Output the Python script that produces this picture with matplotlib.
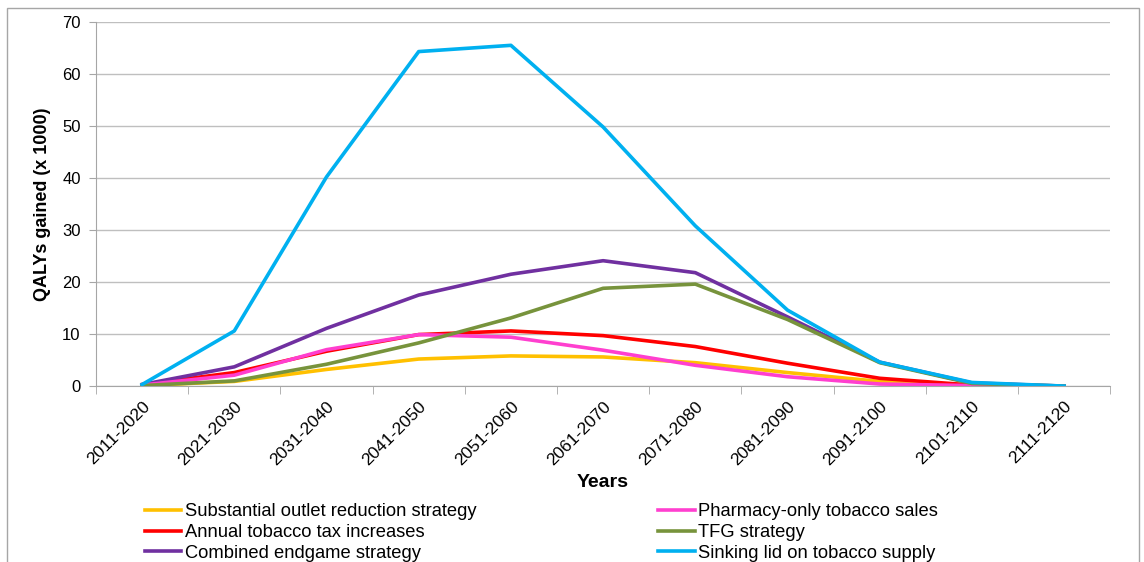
import matplotlib
matplotlib.use("Agg")
import matplotlib.pyplot as plt
from matplotlib.patches import Rectangle

plt.rcParams['font.family'] = ['Liberation Sans', 'DejaVu Sans']

# decades on the x axis
periods = ["2011-2020", "2021-2030", "2031-2040", "2041-2050", "2051-2060",
           "2061-2070", "2071-2080", "2081-2090", "2091-2100", "2101-2110",
           "2111-2120"]

# QALYs gained (x 1000)
outlet = [0.1, 0.9, 3.2, 5.2, 5.8, 5.6, 4.5, 2.6, 0.9, 0.2, 0.0]
pharmacy = [0.2, 2.1, 7.0, 9.9, 9.4, 6.9, 4.0, 1.8, 0.4, 0.1, 0.0]
tax = [0.3, 2.6, 6.7, 9.9, 10.6, 9.7, 7.6, 4.4, 1.5, 0.2, 0.0]
tfg = [0.1, 1.0, 4.2, 8.3, 13.1, 18.8, 19.6, 12.8, 4.5, 0.5, 0.0]
combined = [0.3, 3.7, 11.1, 17.5, 21.5, 24.1, 21.8, 13.3, 4.6, 0.6, 0.0]
sinking = [0.3, 10.6, 40.2, 64.3, 65.5, 49.8, 30.8, 14.6, 4.6, 0.7, 0.0]

series = [
    ("Substantial outlet reduction strategy", outlet, "#FFC000"),
    ("Annual tobacco tax increases", tax, "#FF0000"),
    ("Combined endgame strategy", combined, "#7030A0"),
    ("Pharmacy-only tobacco sales", pharmacy, "#FF3FCF"),
    ("TFG strategy", tfg, "#77933C"),
    ("Sinking lid on tobacco supply", sinking, "#00B0F0"),
]

fig = plt.figure(figsize=(11.44, 5.62), dpi=100)
ax = fig.add_axes([0.0839, 0.313, 0.8866, 0.648])

# outer chart frame (Excel style)
fig.patches.append(Rectangle((0.006, -0.05), 0.99, 1.036, transform=fig.transFigure,
                             fill=False, edgecolor="#A6A6A6", linewidth=1))

x = list(range(len(periods)))
# draw in the original stacking order so the sinking lid sits on top
draw_order = [0, 3, 1, 4, 2, 5]
for i in draw_order:
    name, vals, col = series[i]
    ax.plot(x, vals, color=col, linewidth=2.6, label=name, zorder=3 + i)

ax.set_xlim(-0.5, len(periods) - 0.5)
ax.set_ylim(0, 70)
ax.set_yticks(range(0, 71, 10))
ax.yaxis.grid(True, color="#BFBFBF", linewidth=1)
ax.set_axisbelow(True)

ax.set_xticks(x)
ax.set_xticklabels(periods, rotation=45, ha="right", rotation_mode="anchor", fontsize=12.5)
ax.tick_params(axis="x", length=0, pad=9)
ax.set_xticks([v - 0.5 for v in range(len(periods) + 1)], minor=True)
ax.tick_params(axis="x", which="minor", length=6, color="#A6A6A6", direction="out")
ax.tick_params(axis="y", length=5, color="#A6A6A6", labelsize=12, pad=6)

for side in ["top", "right"]:
    ax.spines[side].set_visible(False)
for side in ["left", "bottom"]:
    ax.spines[side].set_color("#A6A6A6")

ax.set_ylabel("QALYs gained (x 1000)", fontsize=13, fontweight="bold", labelpad=8)
ax.set_xlabel("Years", fontsize=14, fontweight="bold", labelpad=4)

handles, labels = ax.get_legend_handles_labels()
order = [labels.index(s[0]) for s in series]
leg = ax.legend([handles[k] for k in order], [labels[k] for k in order],
                ncol=2, loc="upper left", bbox_to_anchor=(0.048, -0.322),
                frameon=False, fontsize=13.2, handlelength=2.0, handletextpad=0.2,
                columnspacing=9.9, labelspacing=0.2, borderaxespad=0, borderpad=0)

fig.savefig("out.png", dpi=100)
